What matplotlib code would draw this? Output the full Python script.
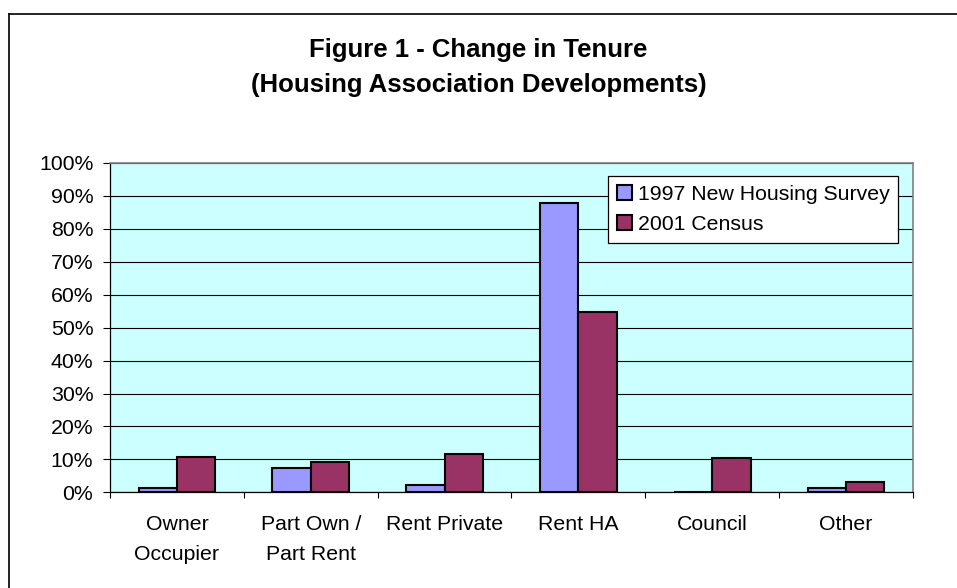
import numpy as np
import matplotlib
matplotlib.use("Agg")
import matplotlib.pyplot as plt
from matplotlib.lines import Line2D

plt.rcParams['font.family'] = ['Liberation Sans', 'DejaVu Sans']

categories = ["Owner\nOccupier", "Part Own /\nPart Rent", "Rent Private",
              "Rent HA", "Council", "Other"]
survey_1997 = [1.4, 7.4, 2.2, 87.8, 0.0, 1.3]
census_2001 = [10.8, 9.3, 11.7, 54.7, 10.3, 3.0]
y_ticks = list(range(0, 101, 10))

W, H = 957, 588
fig = plt.figure(figsize=(W / 100, H / 100), dpi=100)
fig.patch.set_facecolor("white")

# axes placed in pixel terms, like the excel plot area
ax = fig.add_axes([110 / W, 1 - 492.3 / H, 803 / W, 329.3 / H])
ax.set_facecolor("#CCFFFF")

x = np.arange(len(categories))
bw = 0.286
ax.bar(x - bw / 2, survey_1997, bw, color="#9999FF", edgecolor="black",
       linewidth=1.5, label="1997 New Housing Survey", zorder=3)
ax.bar(x + bw / 2, census_2001, bw, color="#993366", edgecolor="black",
       linewidth=1.5, label="2001 Census", zorder=3)

ax.set_xlim(-0.5, len(categories) - 0.5)
ax.set_ylim(0, 100)
ax.set_yticks(y_ticks)
ax.set_yticklabels([f"{v}%" for v in y_ticks])
ax.yaxis.grid(True, color="black", linewidth=0.8, zorder=1)
ax.tick_params(axis="y", direction="out", length=5, width=0.8,
               pad=7, labelsize=15.3, colors="black")

ax.set_xticks(x)
ax.set_xticklabels(categories, linespacing=1.7)
ax.set_xticks(np.arange(len(categories) + 1) - 0.5, minor=True)
ax.tick_params(axis="x", which="major", length=0, pad=16.5, labelsize=15.3)
ax.tick_params(axis="x", which="minor", direction="out", length=4.5,
               width=0.8, color="black")

for side in ("top", "right"):
    ax.spines[side].set_color("#808080")
    ax.spines[side].set_linewidth(1.2)
for side in ("left", "bottom"):
    ax.spines[side].set_color("black")
    ax.spines[side].set_linewidth(0.9)
ax.set_axisbelow(True)

leg = ax.legend(loc="upper right", bbox_to_anchor=(0.9813, 0.9605),
                borderaxespad=0, fontsize=15.3, frameon=True, fancybox=False,
                edgecolor="black", framealpha=1, borderpad=0.4,
                labelspacing=0.55, handlelength=0.7, handleheight=0.7,
                handletextpad=0.28)
leg.get_frame().set_linewidth(0.9)

fig.text(0.5, 1 - 57 / H, "Figure 1 - Change in Tenure", ha="center",
         va="baseline", fontsize=18.5, fontweight="bold")
fig.text(0.5, 1 - 92 / H, "(Housing Association Developments)", ha="center",
         va="baseline", fontsize=18.5, fontweight="bold")

# outer chart border (only top and left edges are inside the picture)
fig.add_artist(Line2D([9 / W, 9 / W], [0, 1 - 14 / H], color="black",
                      linewidth=1.2, transform=fig.transFigure))
fig.add_artist(Line2D([9 / W, 1], [1 - 14 / H, 1 - 14 / H], color="black",
                      linewidth=1.2, transform=fig.transFigure))

fig.savefig("out.png", dpi=100)
